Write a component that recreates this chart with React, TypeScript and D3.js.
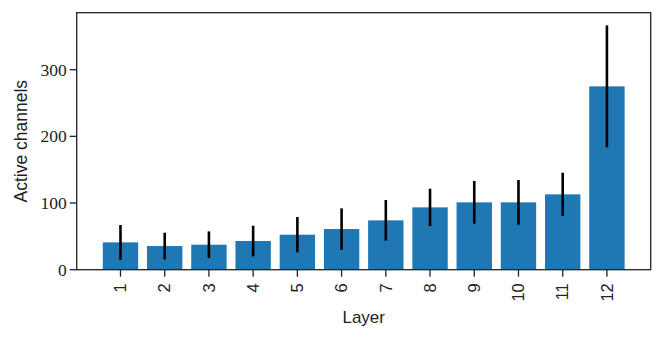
import React from 'react';
import * as d3 from 'd3';

const layers = ['1', '2', '3', '4', '5', '6', '7', '8', '9', '10', '11', '12'];
const activeMeans = [41, 35.5, 37.5, 43, 52.5, 61, 74, 93.5, 101, 101, 113, 275];
const activeErrors = [26, 20, 20, 23, 26.5, 31, 30.5, 28, 32, 33.5, 32.5, 91.5];
const yTicks = [0, 100, 200, 300];

const width = 664,
    height = 340,
    margin = { top: 12.7, right: 13.3, bottom: 70.3, left: 76.7 };

const App = () => {
    const plotW = width - margin.left - margin.right;
    const plotH = height - margin.top - margin.bottom;

    // matplotlib-style band: bars 0.8 wide, 5% margins on x
    const idx = layers.map((d, i) => i + 1);
    const x0 = 0.6, x1 = layers.length + 0.4;
    const pad = (x1 - x0) * 0.05;
    const xScale = d3.scaleLinear()
        .domain([x0 - pad, x1 + pad])
        .range([margin.left, margin.left + plotW]);

    const yScale = d3.scaleLinear()
        .domain([0, 385.5])
        .range([margin.top + plotH, margin.top]);

    const barW = xScale(0.8) - xScale(0);
    const base = yScale(0);
    const tickLen = 7;
    const sans = "'Liberation Sans', Arial, sans-serif";
    const serif = "'Liberation Serif', 'Times New Roman', serif";

    return (
        <svg width={width} height={height} style={{ position: 'absolute', left: 0, top: 0 }}>
            <rect x={0} y={0} width={width} height={height} fill="#fff" />
            {idx.map((v, i) => (
                <rect key={'b' + i}
                    x={xScale(v) - barW / 2}
                    y={yScale(activeMeans[i])}
                    width={barW}
                    height={base - yScale(activeMeans[i])}
                    fill="#1f77b4" />
            ))}
            {idx.map((v, i) => (
                <line key={'e' + i}
                    x1={xScale(v)} x2={xScale(v)}
                    y1={yScale(activeMeans[i] + activeErrors[i])}
                    y2={yScale(activeMeans[i] - activeErrors[i])}
                    stroke="#000" strokeWidth={2.6} />
            ))}
            <rect x={margin.left} y={margin.top} width={plotW} height={plotH}
                fill="none" stroke="#222" strokeWidth={1.3} />
            {yTicks.map(t => (
                <g key={'y' + t}>
                    <line x1={margin.left - tickLen} x2={margin.left} y1={yScale(t)} y2={yScale(t)}
                        stroke="#222" strokeWidth={1.3} />
                    <text x={margin.left - tickLen - 3} y={yScale(t)} dy="0.35em"
                        textAnchor="end" fontFamily={serif} fontSize={17.5} fill="#222">{t}</text>
                </g>
            ))}
            {idx.map((v, i) => (
                <g key={'x' + i}>
                    <line x1={xScale(v)} x2={xScale(v)} y1={base} y2={base + tickLen}
                        stroke="#222" strokeWidth={1.3} />
                    <text transform={`translate(${xScale(v)},${base + 13.5}) rotate(-90)`}
                        dy="0.35em" textAnchor="end" fontFamily={sans} fontSize={16.5} fill="#222">
                        {layers[i]}
                    </text>
                </g>
            ))}
            <text x={margin.left + plotW / 2} y={322.7} textAnchor="middle"
                fontFamily={sans} fontSize={17} fill="#222">Layer</text>
            <text transform={`translate(26.5,${margin.top + plotH / 2}) rotate(-90)`}
                textAnchor="middle" fontFamily={sans} fontSize={17.5} fill="#222">Active channels</text>
        </svg>
    );
};

export default App;
